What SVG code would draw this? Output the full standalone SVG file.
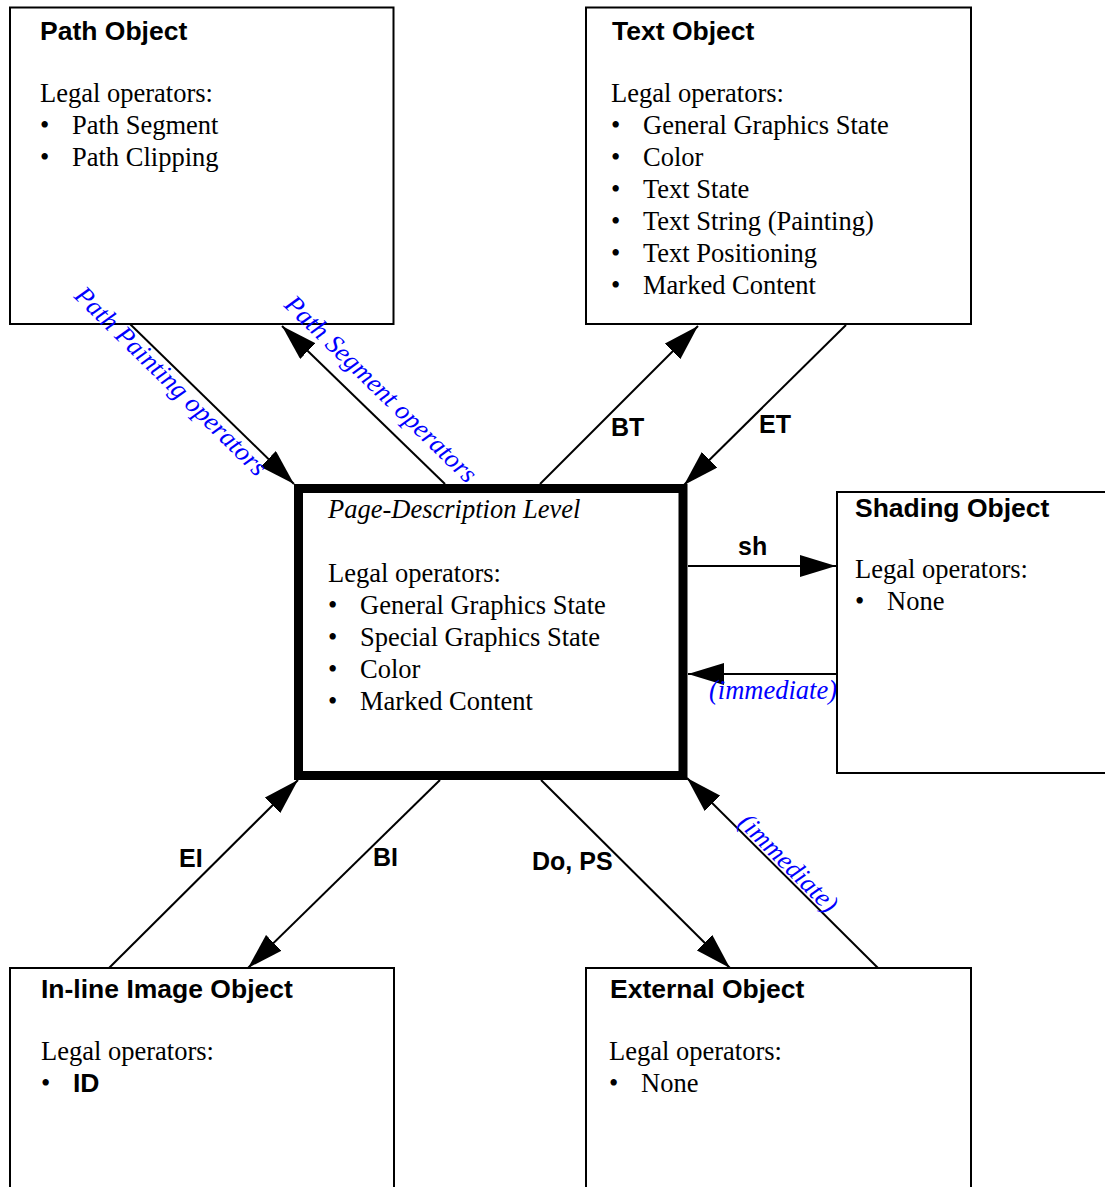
<svg xmlns="http://www.w3.org/2000/svg" width="1105" height="1187" viewBox="0 0 1105 1187">
<style>
.box{fill:#fff;stroke:#000;stroke-width:2}
.main{fill:#fff;stroke:#000;stroke-width:9}
.title{font-family:"Liberation Sans",Arial,sans-serif;font-weight:bold;font-size:26.5px;fill:#000}
.body{font-family:"Liberation Serif","Times New Roman",serif;font-size:26.5px;fill:#000}
.ital{font-family:"Liberation Serif","Times New Roman",serif;font-style:italic;font-size:26.5px;fill:#000}
.blue{font-family:"Liberation Serif","Times New Roman",serif;font-style:italic;font-size:26.5px;fill:#0000ff}
.lbl{font-family:"Liberation Sans",Arial,sans-serif;font-weight:bold;font-size:25px;fill:#000}
.bold{font-family:"Liberation Sans",Arial,sans-serif;font-weight:bold;font-size:26.5px;fill:#000}
.conn{fill:none;stroke:#000;stroke-width:2;marker-end:url(#arr)}
</style>
<defs>
<marker id="arr" viewBox="0 0 36 22" refX="36" refY="11" markerWidth="36" markerHeight="22" markerUnits="userSpaceOnUse" orient="auto">
<path d="M0,0 L36,11 L0,22 z" fill="#000"/>
</marker>
</defs>
<rect width="1105" height="1187" fill="#fff"/>

<g id="path-object">
<rect class="box" x="10" y="7.5" width="383.5" height="316.5"/>
<text class="title" x="40" y="40">Path Object</text>
<text class="body" x="40" y="102">Legal operators:</text>
<text class="body" x="40" y="134">•</text><text class="body" x="72" y="134">Path Segment</text>
<text class="body" x="40" y="166">•</text><text class="body" x="72" y="166">Path Clipping</text>
</g>

<g id="text-object">
<rect class="box" x="586" y="7.5" width="385" height="316.5"/>
<text class="title" x="612" y="40">Text Object</text>
<text class="body" x="611" y="102">Legal operators:</text>
<text class="body" x="611" y="134">•</text><text class="body" x="643" y="134">General Graphics State</text>
<text class="body" x="611" y="166">•</text><text class="body" x="643" y="166">Color</text>
<text class="body" x="611" y="198">•</text><text class="body" x="643" y="198">Text State</text>
<text class="body" x="611" y="230">•</text><text class="body" x="643" y="230">Text String (Painting)</text>
<text class="body" x="611" y="262">•</text><text class="body" x="643" y="262">Text Positioning</text>
<text class="body" x="611" y="294">•</text><text class="body" x="643" y="294">Marked Content</text>
</g>

<g id="page-description-level">
<rect class="main" x="298.5" y="488.5" width="384.5" height="287"/>
<text class="ital" x="328" y="518">Page-Description Level</text>
<text class="body" x="328" y="582">Legal operators:</text>
<text class="body" x="328" y="614">•</text><text class="body" x="360" y="614">General Graphics State</text>
<text class="body" x="328" y="646">•</text><text class="body" x="360" y="646">Special Graphics State</text>
<text class="body" x="328" y="678">•</text><text class="body" x="360" y="678">Color</text>
<text class="body" x="328" y="710">•</text><text class="body" x="360" y="710">Marked Content</text>
</g>

<g id="shading-object">
<rect class="box" x="837" y="492" width="300" height="281"/>
<text class="title" x="855" y="517">Shading Object</text>
<text class="body" x="855" y="578">Legal operators:</text>
<text class="body" x="855" y="610">•</text><text class="body" x="887" y="610">None</text>
</g>

<g id="inline-image-object">
<rect class="box" x="10" y="968" width="384" height="240"/>
<text class="title" x="41" y="998">In-line Image Object</text>
<text class="body" x="41" y="1060">Legal operators:</text>
<text class="body" x="41" y="1092">•</text><text class="bold" x="73" y="1092">ID</text>
</g>

<g id="external-object">
<rect class="box" x="586" y="968" width="385" height="240"/>
<text class="title" x="610" y="998">External Object</text>
<text class="body" x="609" y="1060">Legal operators:</text>
<text class="body" x="609" y="1092">•</text><text class="body" x="641" y="1092">None</text>
</g>

<g id="connectors">
<line class="conn" x1="130" y1="324" x2="294" y2="484"/>
<line class="conn" x1="445" y1="484" x2="282" y2="326"/>
<line class="conn" x1="540" y1="484" x2="698" y2="326"/>
<line class="conn" x1="846" y1="325" x2="684" y2="485"/>
<line class="conn" x1="688" y1="566" x2="836" y2="566"/>
<line class="conn" x1="836" y1="674" x2="688" y2="674"/>
<line class="conn" x1="109" y1="968" x2="298" y2="780"/>
<line class="conn" x1="440" y1="780" x2="248" y2="968"/>
<line class="conn" x1="541" y1="780" x2="730" y2="968"/>
<line class="conn" x1="878" y1="968" x2="687" y2="778"/>
<text class="blue" transform="translate(73,297) rotate(44.47)">Path Painting operators</text>
<text class="blue" transform="translate(283,306) rotate(44.1)">Path Segment operators</text>
<text class="lbl" x="611" y="436">BT</text>
<text class="lbl" x="759" y="433">ET</text>
<text class="lbl" x="738" y="555">sh</text>
<text class="blue" x="709" y="699">(immediate)</text>
<text class="lbl" x="179" y="867">EI</text>
<text class="lbl" x="373" y="866">BI</text>
<text class="lbl" x="532" y="870">Do, PS</text>
<text class="blue" transform="translate(737,824) rotate(44.85)">(immediate)</text>
</g>
</svg>
